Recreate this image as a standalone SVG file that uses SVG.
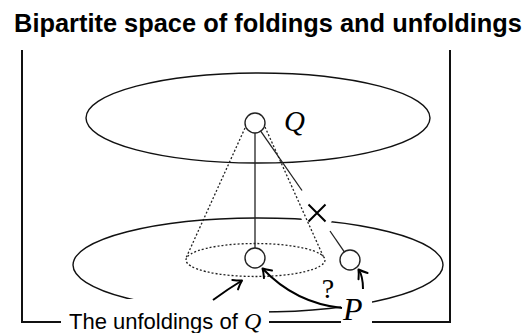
<svg xmlns="http://www.w3.org/2000/svg" width="531" height="333" viewBox="0 0 531 333">
<defs>
<marker id="arr" viewBox="-10 -7 12 14" markerWidth="12" markerHeight="14" refX="0" refY="0" orient="auto" markerUnits="userSpaceOnUse">
<path d="M-8,-5.5 Q-3,-1.5 0,0 Q-3,1.5 -8,5.5" fill="none" stroke="#000" stroke-width="2" stroke-linecap="round" stroke-linejoin="round"/>
</marker>
</defs>
<style>
.ell{fill:none;stroke:#111;stroke-width:1.4}
.frame{fill:none;stroke:#111;stroke-width:2}
.dot{fill:none;stroke:#222;stroke-width:1.3;stroke-dasharray:2 2}
.node{fill:#fff;stroke:#222;stroke-width:1.4}
.ln{fill:none;stroke:#222;stroke-width:1.3}
.arrow{fill:none;stroke:#000;stroke-width:2;marker-end:url(#arr)}
.math{font-family:"Liberation Serif",serif;font-style:italic;fill:#000}
.sans{font-family:"Liberation Sans",Arial,sans-serif;fill:#000}
.bg{fill:#fff}
</style>
<rect width="531" height="333" fill="#fff"/>
<text class="sans" x="268" y="32" font-size="25.4" font-weight="bold" text-anchor="middle">Bipartite space of foldings and unfoldings</text>

<g id="frame">
<path class="frame" d="M22,50 V322 H450 V50"/>
</g>

<g id="spaces">
<ellipse class="ell" cx="258" cy="118" rx="172" ry="45"/>
<ellipse class="ell" cx="258" cy="265" rx="185" ry="47"/>
<circle class="bg" cx="317" cy="215" r="16"/>
</g>

<g id="connectors">
<line class="ln" x1="255" y1="133" x2="255" y2="248"/>
<line class="ln" x1="260.7" y1="131.2" x2="302" y2="190.5"/>
<line class="ln" x1="330" y1="231" x2="344.3" y2="251.8"/>
<path d="M308.5,204.5 L325.5,221.5 M325.5,204.5 L308.5,221.5" stroke="#000" stroke-width="2" fill="none"/>
<ellipse class="dot" cx="255.5" cy="260" rx="69.5" ry="16.5"/>
<line class="dot" x1="245" y1="128" x2="186" y2="258"/>
<line class="dot" x1="265" y1="127" x2="324" y2="258"/>
</g>

<g id="node-Q">
<circle class="node" cx="255" cy="123" r="10"/>
<text class="math" x="284" y="131" font-size="29">Q</text>
</g>
<g id="node-unfolding">
<circle class="node" cx="255" cy="258" r="10"/>
</g>
<g id="node-P">
<circle class="node" cx="350" cy="260" r="10"/>
</g>

<g id="label-unfoldings">
<rect class="bg" x="61" y="299" width="208" height="34"/>
<text class="sans" x="69" y="329" font-size="22">The unfoldings of <tspan class="math" font-size="24">Q</tspan></text>
</g>
<g id="label-P">
<rect class="bg" x="341" y="296" width="31" height="37"/>
<text class="math" x="343" y="320" font-size="32">P</text>
</g>
<text x="328" y="298" font-family="Liberation Serif,serif" font-size="28" text-anchor="middle">?</text>

<g id="arrows">
<path class="arrow" d="M213,300 Q228,289 242,280.5"/>
<path class="arrow" d="M342,308 Q295,303 262.5,268.5"/>
<path class="arrow" d="M363,289 Q363,276 358.5,269.5"/>
</g>
</svg>
